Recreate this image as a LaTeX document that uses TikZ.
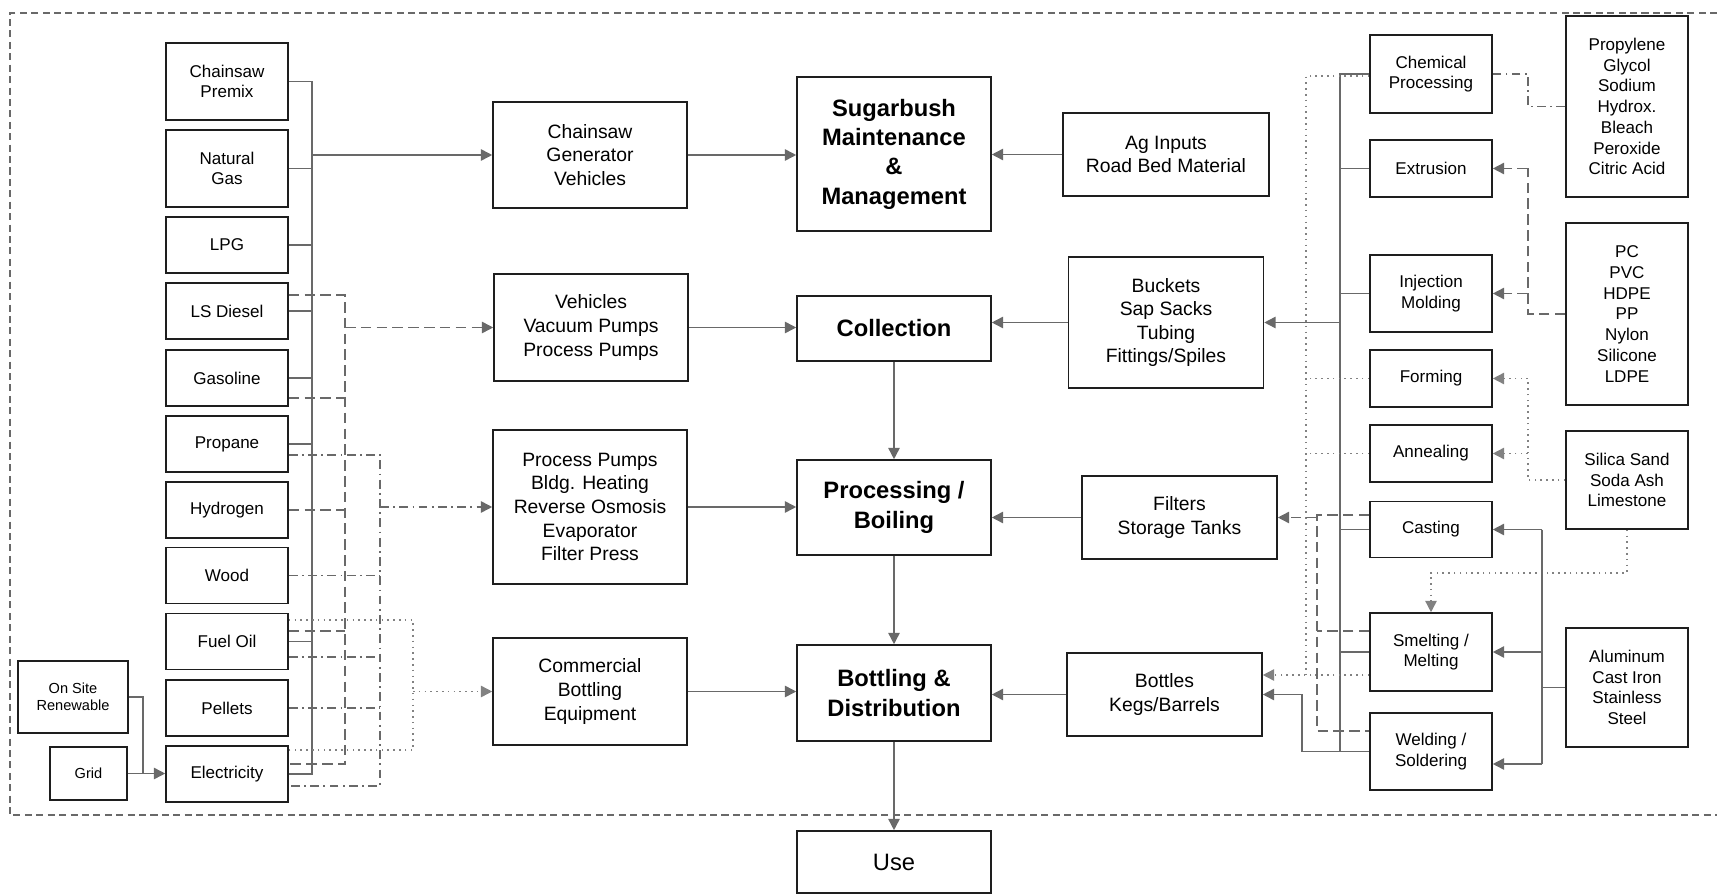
\documentclass[tikz,border=0pt]{standalone}
\usepackage{fontspec}
\setmainfont{Liberation Sans}
\setsansfont{Liberation Sans}
\usetikzlibrary{arrows.meta, calc, positioning}
\definecolor{lineGray}{RGB}{105, 105, 105}
\definecolor{dotGray}{RGB}{130, 130, 130}
\definecolor{boxBlack}{RGB}{30, 30, 30}

\begin{document}
\begin{tikzpicture}[
    x=0.02cm, y=-0.02cm,
    font=\sffamily,
    % Estilo base para bloques
    block/.style={
        draw=boxBlack,
        line width=0.9pt,
        align=center,
        inner sep=1pt,
        text=black
    },
    % Fuentes de energia (izquierda)
    fuel_node/.style={
        block,
        minimum width=2.44cm,
        minimum height=1.12cm,
        font=\sffamily\fontsize{9.7pt}{11.6pt}\selectfont
    },
    % Equipos (columna media)
    equip_node/.style={
        block,
        minimum width=3.88cm,
        font=\sffamily\fontsize{11pt}{13.5pt}\selectfont
    },
    % Etapas principales (centro)
    stage_node/.style={
        block,
        minimum width=3.88cm,
        font=\sffamily\bfseries\fontsize{13.5pt}{16.7pt}\selectfont
    },
    % Insumos (derecha)
    supply_node/.style={
        block,
        minimum width=3.9cm,
        minimum height=1.66cm,
        font=\sffamily\fontsize{11pt}{13.3pt}\selectfont
    },
    % Procesos y materias primas
    proc_node/.style={
        block,
        minimum width=2.44cm,
        font=\sffamily\fontsize{9.7pt}{11.8pt}\selectfont
    },
    % Estilos para conexiones
    link/.style={draw=lineGray, line width=0.9pt},
    link_dash/.style={link, dash pattern=on 6pt off 3pt},
    link_dashdot/.style={link, dash pattern=on 5pt off 2.5pt on 1pt off 2.5pt},
    link_dot/.style={draw=dotGray, line width=0.9pt, dash pattern=on 0.9pt off 2.4pt},
    arrow/.style={-{Triangle[length=6.5pt, width=6.5pt]}},
    border_line/.style={draw=lineGray, line width=0.6pt, dash pattern=on 4pt off 2.5pt}
]
    \useasboundingbox (0,0) rectangle (1717,895);

    % --- Marco punteado ---
    \draw[border_line] (1717,13) -- (10,13) -- (10,815) -- (1717,815);

    % --- 1. Fuentes de energia ---
    \node[fuel_node, minimum height=1.54cm] (premix) at (227,81.5) {Chainsaw\\Premix};
    \node[fuel_node, minimum height=1.54cm] (natgas) at (227,168.5) {Natural\\Gas};
    \node[fuel_node] (lpg) at (227,245) {LPG};
    \node[fuel_node] (diesel) at (227,311) {LS Diesel};
    \node[fuel_node] (gasoline) at (227,378) {Gasoline};
    \node[fuel_node] (propane) at (227,444) {Propane};
    \node[fuel_node] (hydrogen) at (227,510) {Hydrogen};
    \node[fuel_node] (wood) at (227,575.5) {Wood};
    \node[fuel_node] (fueloil) at (227,641.5) {Fuel Oil};
    \node[fuel_node] (pellets) at (227,708) {Pellets};
    \node[fuel_node] (elec) at (227,774) {Electricity};

    % Electricidad: renovable y red
    \node[block, minimum width=2.2cm, minimum height=1.44cm, font=\sffamily\fontsize{8.3pt}{9.9pt}\selectfont] (renew) at (73,697) {On Site\\Renewable};
    \node[block, minimum width=1.54cm, minimum height=1.06cm, font=\sffamily\fontsize{8.3pt}{9.9pt}\selectfont] (grid) at (88.5,773.5) {Grid};
    \draw[link, arrow] (grid.east) -- (grid.east -| elec.west);
    \draw[link] (renew.east) -| ($(grid.east)+(15,0)$);

    % --- 2. Equipos ---
    \node[equip_node, minimum height=2.12cm] (chgen) at (590,155) {Chainsaw\\Generator\\Vehicles};
    \node[equip_node, minimum height=2.14cm] (vehicles) at (591,327.5) {Vehicles\\Vacuum Pumps\\Process Pumps};
    \node[equip_node, minimum height=3.08cm] (pumps) at (590,507) {Process Pumps\\Bldg. Heating\\Reverse Osmosis\\Evaporator\\Filter Press};
    \node[equip_node, minimum height=2.14cm] (bottleq) at (590,691.5) {Commercial\\Bottling\\Equipment};

    % Buses de combustibles
    \coordinate (bus_s) at (312,0);
    \coordinate (bus_d) at (345,0);
    \coordinate (bus_dd) at (380,0);
    \coordinate (bus_t) at (413,0);

    % Linea solida
    \draw[link] (premix.east) -| (bus_s |- elec) -- (elec.east);
    \draw[link] (natgas.east) -- (natgas.east -| bus_s);
    \draw[link] (lpg.east) -- (lpg.east -| bus_s);
    \draw[link] (diesel.east) -- (diesel.east -| bus_s);
    \draw[link] (gasoline.east) -- (gasoline.east -| bus_s);
    \draw[link] (propane.east) -- (propane.east -| bus_s);
    \draw[link] (fueloil.east) -- (fueloil.east -| bus_s);
    \draw[link, arrow] (bus_s |- chgen) -- (chgen.west);

    % Linea discontinua
    \draw[link_dash] ($(diesel.east)+(0,-16)$) -| ($(bus_d |- elec)+(0,-10)$) -- ($(elec.east)+(0,-10)$);
    \draw[link_dash] ($(gasoline.east)+(0,20)$) -- ($(gasoline.east -| bus_d)+(0,20)$);
    \draw[link_dash] (hydrogen.east) -- (hydrogen.east -| bus_d);
    \draw[link_dash] ($(fueloil.east)+(0,-10.5)$) -- ($(fueloil.east -| bus_d)+(0,-10.5)$);
    \draw[link_dash, arrow] (bus_d |- vehicles) -- (vehicles.west);

    % Linea punto-raya
    \draw[link_dashdot] ($(propane.east)+(0,11)$) -| ($(bus_dd |- elec)+(0,12)$) -- ($(elec.east)+(0,12)$);
    \draw[link_dashdot] (wood.east) -- (wood.east -| bus_dd);
    \draw[link_dashdot] ($(fueloil.east)+(0,15.5)$) -- ($(fueloil.east -| bus_dd)+(0,15.5)$);
    \draw[link_dashdot] (pellets.east) -- (pellets.east -| bus_dd);
    \draw[link_dashdot, arrow] (bus_dd |- pumps) -- (pumps.west);

    % Linea punteada
    \draw[link_dot] ($(fueloil.east)+(0,-21.5)$) -| ($(bus_t |- elec)+(0,-24)$) -- ($(elec.east)+(0,-24)$);
    \draw[link_dot, arrow] (bus_t |- bottleq) -- (bottleq.west);

    % --- 3. Etapas principales ---
    \node[stage_node, minimum height=3.08cm] (sugarbush) at (894,154) {Sugarbush\\Maintenance\\\&\\Management};
    \node[stage_node, minimum height=1.3cm] (collection) at (894,328.5) {Collection};
    \node[stage_node, minimum height=1.9cm] (processing) at (894,507.5) {Processing /\\Boiling};
    \node[stage_node, minimum height=1.92cm] (bottling) at (894,693) {Bottling \&\\Distribution};
    \node[block, minimum width=3.88cm, minimum height=1.24cm, font=\sffamily\fontsize{13.5pt}{16pt}\selectfont] (use) at (894,862) {Use};

    \draw[link, arrow] (chgen.east) -- (chgen.east -| sugarbush.west);
    \draw[link, arrow] (vehicles.east) -- (vehicles.east -| collection.west);
    \draw[link, arrow] (pumps.east) -- (pumps.east -| processing.west);
    \draw[link, arrow] (bottleq.east) -- (bottleq.east -| bottling.west);
    \draw[link, arrow] (collection.south) -- (processing.north);
    \draw[link, arrow] (processing.south) -- (bottling.north);
    \draw[link, arrow] (bottling.south) -- (use.north);

    % --- 4. Insumos ---
    \node[supply_node, minimum width=4.12cm] (aginputs) at (1166,154.5) {Ag Inputs\\Road Bed Material};
    \node[supply_node, minimum height=2.62cm] (buckets) at (1166,322.5) {Buckets\\Sap Sacks\\Tubing\\Fittings/Spiles};
    \node[supply_node] (filters) at (1179.5,517.5) {Filters\\Storage Tanks};
    \node[supply_node] (bottles) at (1164.5,694.5) {Bottles\\Kegs/Barrels};

    \draw[link, arrow] (aginputs.west) -- (aginputs.west -| sugarbush.east);
    \draw[link, arrow] (buckets.west) -- (buckets.west -| collection.east);
    \draw[link, arrow] (filters.west) -- (filters.west -| processing.east);
    \draw[link, arrow] (bottles.west) -- (bottles.west -| bottling.east);

    % --- 5. Procesos de fabricacion ---
    \node[proc_node, minimum height=1.56cm] (chem) at (1431,74) {Chemical\\Processing};
    \node[proc_node, minimum height=1.14cm] (extrusion) at (1431,168.5) {Extrusion};
    \node[proc_node, minimum height=1.54cm] (injection) at (1431,293.5) {Injection\\Molding};
    \node[proc_node, minimum height=1.14cm] (forming) at (1431,378.5) {Forming};
    \node[proc_node, minimum height=1.14cm] (annealing) at (1431,453.5) {Annealing};
    \node[proc_node, minimum height=1.12cm] (casting) at (1431,529.5) {Casting};
    \node[proc_node, minimum height=1.56cm] (smelting) at (1431,652) {Smelting /\\Melting};
    \node[proc_node, minimum height=1.54cm] (welding) at (1431,751.5) {Welding /\\Soldering};

    % --- 6. Materias primas ---
    \node[proc_node, minimum height=3.62cm] (chemicals) at (1627,106.5) {Propylene\\Glycol\\Sodium\\Hydrox.\\Bleach\\Peroxide\\Citric Acid};
    \node[proc_node, minimum height=3.64cm] (plastics) at (1627,314) {PC\\PVC\\HDPE\\PP\\Nylon\\Silicone\\LDPE};
    \node[proc_node, minimum height=1.96cm] (glass) at (1627,480) {Silica Sand\\Soda Ash\\Limestone};
    \node[proc_node, minimum height=2.38cm] (metals) at (1627,687.5) {Aluminum\\Cast Iron\\Stainless\\Steel};

    % Buses derecha
    \coordinate (rbus_a) at (1528,0);
    \coordinate (rbus_b) at (1542,0);
    \coordinate (lbus_w) at (1302,0);
    \coordinate (lbus_t) at (1306,0);
    \coordinate (lbus_d) at (1317,0);
    \coordinate (lbus_s) at (1340,0);

    % Materias primas hacia procesos
    \draw[link_dashdot] (chemicals.west) -- (chemicals.west -| rbus_a) |- (chem.east);

    \draw[link_dash] (plastics.west) -- (plastics.west -| rbus_a) -- (rbus_a |- extrusion);
    \draw[link_dash, arrow] (rbus_a |- extrusion) -- (extrusion.east);
    \draw[link_dash, arrow] (rbus_a |- injection) -- (injection.east);

    \draw[link_dot] (glass.west) -- (glass.west -| rbus_a) -- (rbus_a |- forming);
    \draw[link_dot, arrow] (rbus_a |- forming) -- (forming.east);
    \draw[link_dot, arrow] (rbus_a |- annealing) -- (annealing.east);
    \draw[link_dot, arrow] (glass.south) -- ++(0,43) -| (smelting.north);

    \draw[link] (metals.west) -- (metals.west -| rbus_b);
    \draw[link] (rbus_b |- casting) -- ($(rbus_b |- welding)+(0,12.5)$);
    \draw[link, arrow] (rbus_b |- casting) -- (casting.east);
    \draw[link, arrow] (rbus_b |- smelting) -- (smelting.east);
    \draw[link, arrow] ($(rbus_b |- welding)+(0,12.5)$) -- ($(welding.east)+(0,12.5)$);

    % Procesos hacia insumos (solida)
    \draw[link] (chem.west) -- (chem.west -| lbus_s) -- (lbus_s |- welding) -- (welding.west);
    \draw[link] (extrusion.west) -- (extrusion.west -| lbus_s);
    \draw[link] (injection.west) -- (injection.west -| lbus_s);
    \draw[link] (casting.west) -- (casting.west -| lbus_s);
    \draw[link] (smelting.west) -- (smelting.west -| lbus_s);
    \draw[link, arrow] (lbus_s |- buckets) -- (buckets.east);
    \draw[link, arrow] (welding.west) -| (lbus_w |- bottles) -- (bottles.east);

    % Punteada hacia botellas
    \draw[link_dot] ($(chem.west)+(0,2)$) -- ($(chem.west -| lbus_t)+(0,2)$) -- ($(lbus_t |- smelting)+(0,23)$);
    \draw[link_dot] (forming.west) -- (forming.west -| lbus_t);
    \draw[link_dot] (annealing.west) -- (annealing.west -| lbus_t);
    \draw[link_dot, arrow] ($(smelting.west)+(0,23)$) -- ($(bottles.east)+(0,-19.5)$);

    % Discontinua hacia filtros
    \draw[link_dash] ($(casting.west)+(0,-14.5)$) -| ($(lbus_d |- welding)+(0,-20.5)$) -- ($(welding.west)+(0,-20.5)$);
    \draw[link_dash] ($(smelting.west)+(0,-21)$) -- ($(smelting.west -| lbus_d)+(0,-21)$);
    \draw[link_dash, arrow] (lbus_d |- filters) -- (filters.east);

\end{tikzpicture}
\end{document}
